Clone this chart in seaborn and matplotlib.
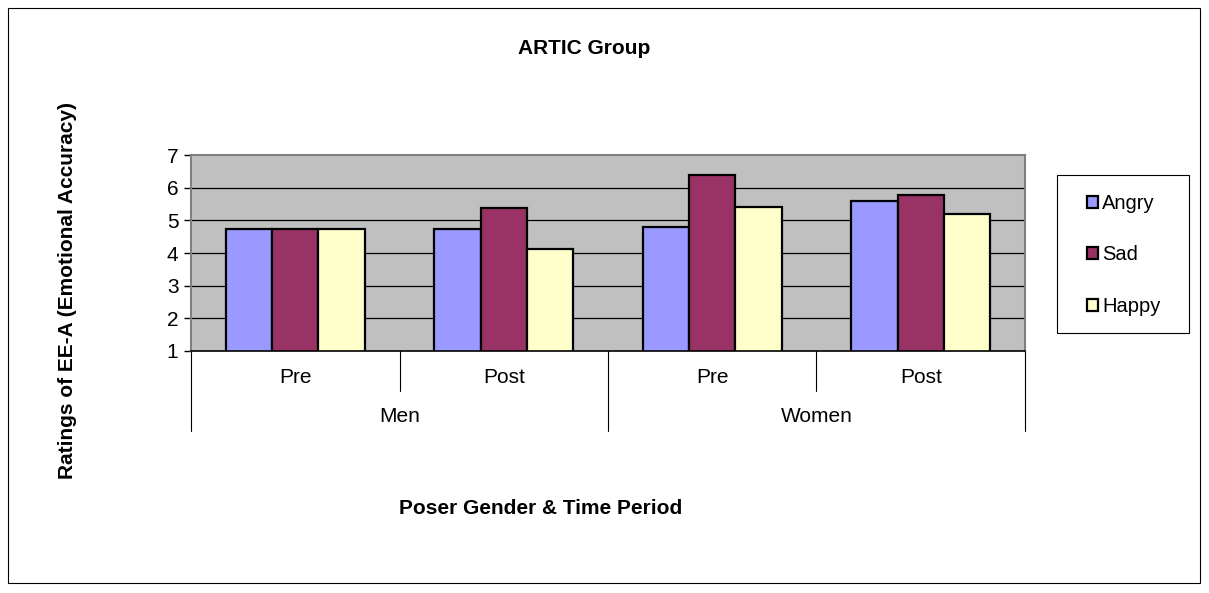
import matplotlib
matplotlib.use("Agg")
import matplotlib.pyplot as plt
import matplotlib.patches as mpatches
import seaborn as sns
import pandas as pd

groups = ["Men", "Men", "Women", "Women"]
periods = ["Pre", "Post", "Pre", "Post"]
emotions = ["Angry", "Sad", "Happy"]
angry = [4.75, 4.75, 4.8, 5.58]
sad = [4.75, 5.37, 6.38, 5.79]
happy = [4.75, 4.12, 5.4, 5.19]
colors = ["#9999FF", "#993366", "#FFFFCC"]

sns.set_theme(style="white")
plt.rcParams["font.family"] = ["Liberation Sans", "DejaVu Sans"]
plt.rcParams["text.color"] = "black"
plt.rcParams["xtick.color"] = "black"
plt.rcParams["ytick.color"] = "black"

FS = 15

rows = []
for i, (g, p) in enumerate(zip(groups, periods)):
    for e, vals in zip(emotions, [angry, sad, happy]):
        rows.append({"cat": f"{g} {p} {i}", "emotion": e, "value": vals[i]})
df = pd.DataFrame(rows)
cats = [f"{g} {p} {i}" for i, (g, p) in enumerate(zip(groups, periods))]

fig = plt.figure(figsize=(12.09, 5.93), dpi=100)
fig.patch.set_facecolor("white")
ax = fig.add_axes([191/1209, 1-351/593, (1025-191)/1209, (351-155)/593])
ax.set_facecolor("#C0C0C0")

sns.barplot(data=df, x="cat", y="value", hue="emotion", order=cats,
            hue_order=emotions, palette=colors, width=0.667, saturation=1,
            edgecolor="black", linewidth=1.6, ax=ax, legend=True)

ax.set_ylim(1, 7)
ax.set_xlim(-0.5, 3.5)
ax.set_yticks(range(1, 8))
ax.set_yticklabels([str(v) for v in range(1, 8)], fontsize=FS)
for y in range(2, 7):
    ax.axhline(y, color="black", linewidth=0.9, zorder=0)
ax.set_axisbelow(True)
ax.grid(False)

ax.set_xticks(range(4))
ax.set_xticklabels(periods, fontsize=FS)
ax.tick_params(axis="x", length=0, pad=12)
ax.tick_params(axis="y", length=5, direction="out", left=True, pad=4, width=1, color="black")

for side in ["top", "right", "left"]:
    ax.spines[side].set_color("#808080")
    ax.spines[side].set_linewidth(1.5)
ax.spines["bottom"].set_color("black")
ax.spines["bottom"].set_linewidth(1.2)

# category separators
trans = ax.get_xaxis_transform()
ax_h_px = 351 - 155
for x, depth in [(-0.5, 80), (0.5, 40), (1.5, 80), (2.5, 40), (3.5, 80)]:
    ax.plot([x, x], [0, -depth/ax_h_px], transform=trans, color="black",
            linewidth=0.8, clip_on=False)

for xc, lab in [(0.5, "Men"), (2.5, "Women")]:
    ax.text(xc, -(416-351)/ax_h_px, lab, transform=trans, ha="center",
            va="center", fontsize=FS)

ax.set_xlabel("")
ax.set_ylabel("")

fig.text(584/1209, 1-49/593, "ARTIC Group", ha="center", va="center",
         fontsize=FS, fontweight="bold")
fig.text(541/1209, 1-508/593, "Poser Gender & Time Period", ha="center",
         va="center", fontsize=FS, fontweight="bold")
fig.text(68/1209, 1-290/593, "Ratings of EE-A (Emotional Accuracy)", ha="center",
         va="center", rotation=90, fontsize=FS, fontweight="bold")

# legend box (drawn beneath the legend entries)
fig.patches.append(mpatches.Rectangle((1057/1209, 1-333/593), (1189-1057)/1209, (333-175)/593,
                                      transform=fig.transFigure, fill=True, zorder=-1,
                                      facecolor="white", edgecolor="black", linewidth=0.8))

handles, labels = ax.get_legend_handles_labels()
leg = ax.legend(handles, labels, loc="center left",
                bbox_to_anchor=(1087/1209, 1-255/593), bbox_transform=fig.transFigure,
                frameon=False, fontsize=14.5, handlelength=0.55, handleheight=0.55,
                handletextpad=0.2, labelspacing=1.6, borderpad=0, borderaxespad=0)
for h in leg.legend_handles:
    h.set_linewidth(1.6)

fig.patches.append(mpatches.Rectangle((8/1209, 1-583/593), (1200-8)/1209, (583-8)/593,
                                      transform=fig.transFigure, fill=False, zorder=-1,
                                      edgecolor="black", linewidth=0.8))

fig.savefig("out.png", dpi=100)
